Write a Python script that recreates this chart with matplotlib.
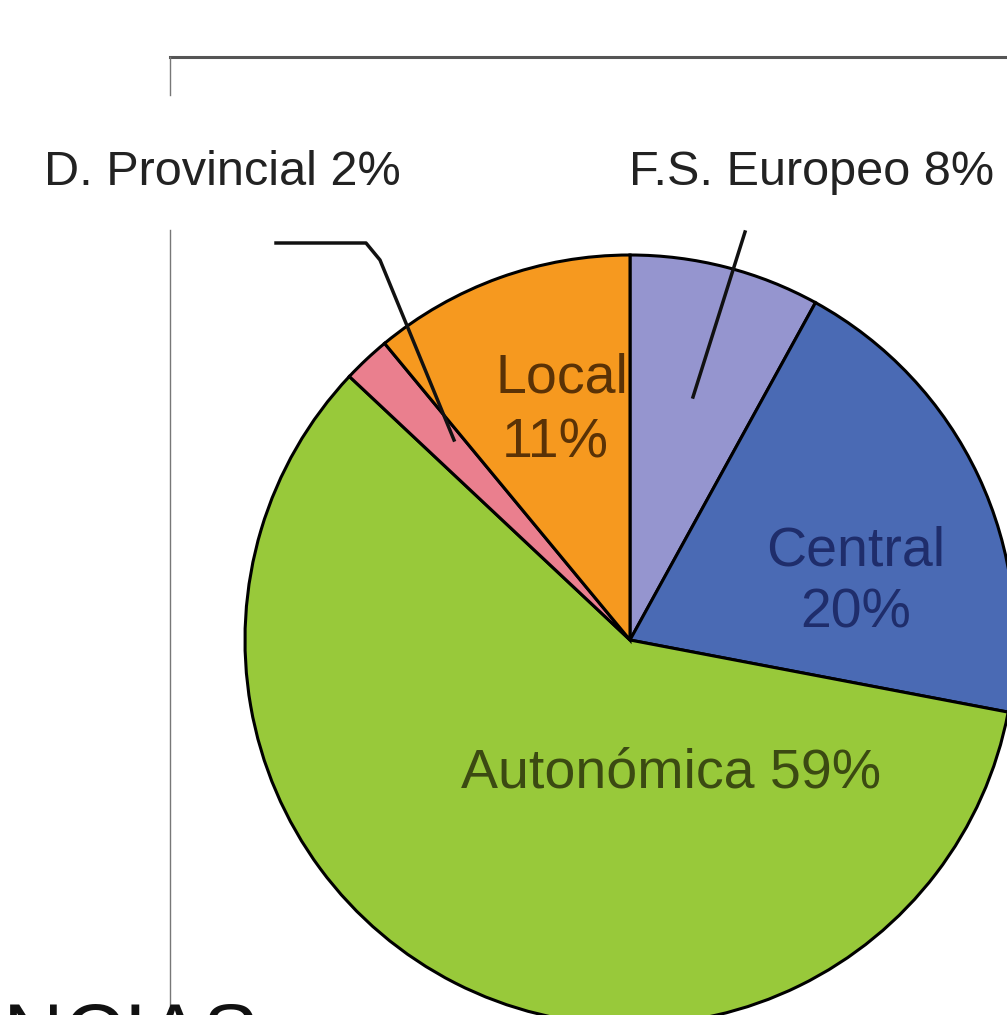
import matplotlib.pyplot as plt

# slices, clockwise from the top
labels = ['F.S. Europeo', 'Central', 'Autonómica', 'D. Provincial', 'Local']
shares = [8, 20, 59, 2, 11]
colors = ['#9595cf', '#4a6ab4', '#98c93a', '#ea7f8e', '#f6991f']

W, H = 1007, 1015

def py(y):
    # pixel row (top down) -> data y (bottom up)
    return H - y

fig = plt.figure(figsize=(W / 100, H / 100), dpi=100)
ax = fig.add_axes([0, 0, 1, 1])

ax.pie(shares, colors=colors, startangle=90, counterclock=False,
       center=(630, py(640)), radius=385,
       wedgeprops=dict(edgecolor='black', linewidth=2.2))
ax.set_xlim(0, W)
ax.set_ylim(0, H)
ax.set_aspect('equal')
ax.axis('off')

# frame lines of the surrounding page
ax.plot([170, W], [py(57), py(57)], color='#555555', lw=2.2)
ax.plot([170, 170], [py(57), py(95)], color='#777777', lw=1)
ax.plot([170, 170], [py(230), py(1005)], color='#777777', lw=1)

sans = ['Liberation Sans', 'DejaVu Sans']

# outside labels with leader lines
ax.text(222, py(172), f'{labels[3]} {shares[3]}%', fontsize=35, family=sans,
        ha='center', va='center', color='#222222')
ax.text(812, py(172), f'{labels[0]} {shares[0]}%', fontsize=35, family=sans,
        ha='center', va='center', color='#222222')
ax.plot([276, 366, 380, 454], [py(243), py(243), py(260), py(440)],
        color='#111111', lw=2.5)
ax.plot([745, 693], [py(232), py(397)], color='#111111', lw=2.5)

# inside labels
ax.text(562, py(378), labels[4], fontsize=40, family=sans,
        ha='center', va='center', color='#5a3206')
ax.text(555, py(443), f'{shares[4]}%', fontsize=40, family=sans,
        ha='center', va='center', color='#5a3206')
ax.text(856, py(552), labels[1], fontsize=40, family=sans,
        ha='center', va='center', color='#1f2d6b')
ax.text(856, py(613), f'{shares[1]}%', fontsize=40, family=sans,
        ha='center', va='center', color='#1f2d6b')
ax.text(671, py(773), f'{labels[2]} {shares[2]}%', fontsize=40, family=sans,
        ha='center', va='center', color='#3b4a12')

# heading cut off by the bottom edge
ax.text(-20, py(1001), 'INCIAS', fontsize=60, family=sans,
        ha='left', va='top', color='#111111', clip_on=False)

fig.savefig('out.png', dpi=100)
